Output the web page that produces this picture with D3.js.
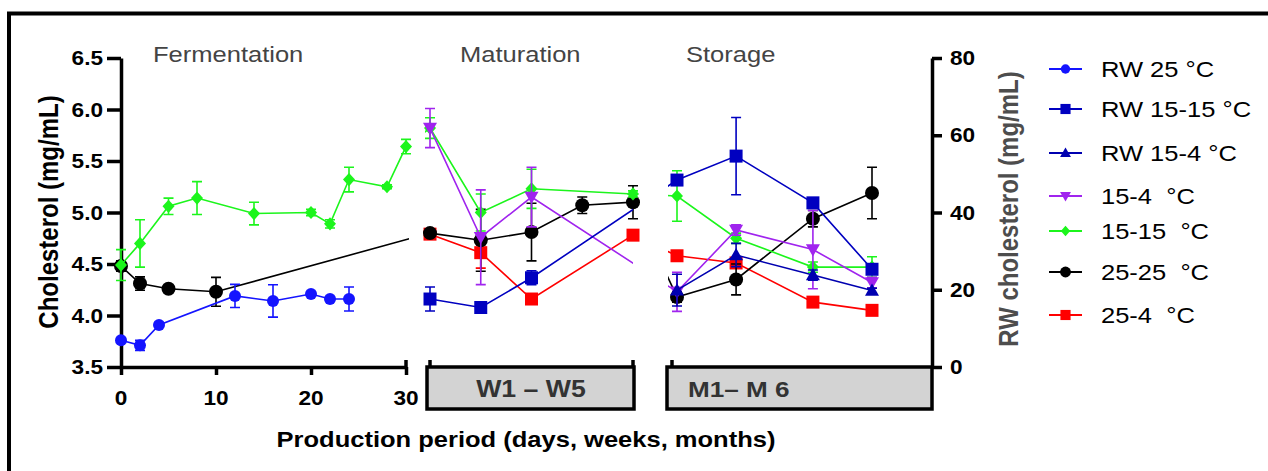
<!DOCTYPE html>
<html>
<head>
<meta charset="utf-8">
<script src="https://cdn.jsdelivr.net/npm/d3@7"></script>
<style>
  body { margin: 0; background: #fff; }
  text { font-family: Arial, "Liberation Sans", sans-serif; white-space: pre; }
</style>
</head>
<body>
<svg id="chart" width="1268" height="471"></svg>
<script>
const W = 1268, H = 471;
const SX = 1.16; // the source figure is stretched horizontally

// ── Data ────────────────────────────────────────────────────────────────────
// axis tick labels
const leftTicks = [3.5, 4.0, 4.5, 5.0, 5.5, 6.0, 6.5];
const rightTicks = [0, 20, 40, 60, 80];
const fermTicks = [0, 10, 20, 30];
const weeks = [1, 5];            // W1 – W5
const storageMonths = [1, 4.3];  // sampling span of M1 – M6 as drawn

// points: [stage, time, mean, sd]; F = day, M = week, S = month
// RW series are read on the right axis, the rest on the left axis
const rw25 = [
  ["F", 0, 6.9, 0.5], ["F", 2, 5.6, 1.3], ["F", 4, 10.9, 0.6], ["F", 12, 18.4, 3.0],
  ["F", 16, 17.1, 4.2], ["F", 20, 18.9, 0.6], ["F", 22, 17.6, 0.6], ["F", 24, 17.6, 3.1],
];
const rw1515 = [
  ["M", 1, 17.6, 3.1], ["M", 2, 15.4, 0.5], ["M", 3, 23.1, 1.8],
  ["S", 1, 48.4, 1.0], ["S", 2, 54.6, 10.0], ["S", 3.3, 42.5, 0.8], ["S", 4.3, 25.3, 1.0],
];
const rw154 = [
  ["S", 1, 19.9, 4.1], ["S", 2, 29.0, 3.0], ["S", 3.3, 23.8, 1.3], ["S", 4.3, 19.8, 0.6],
];
const t154 = [
  ["M", 1, 5.82, 0.19], ["M", 2, 4.76, 0.46], ["M", 3, 5.15, 0.29],
  ["S", 1, 4.23, 0.19], ["S", 2, 4.83, 0.05], ["S", 3.3, 4.64, 0.38], ["S", 4.3, 4.32, 0.05],
];
const t1515 = [
  ["F", 0, 4.49, 0.15], ["F", 2, 4.70, 0.23], ["F", 5, 5.06, 0.08], ["F", 8, 5.14, 0.16],
  ["F", 14, 4.99, 0.11], ["F", 20, 5.00, 0.03], ["F", 22, 4.89, 0.04], ["F", 24, 5.32, 0.12],
  ["F", 28, 5.25, 0.02], ["F", 30, 5.64, 0.07],
  ["M", 1, 5.82, 0.10], ["M", 2, 5.00, 0.18], ["M", 3, 5.23, 0.19], ["M", 5, 5.18, 0.03],
  ["S", 1, 5.16, 0.245], ["S", 2, 4.75, 0.05], ["S", 3.3, 4.47, 0.05], ["S", 4.3, 4.47, 0.10],
];
const t2525 = [
  ["F", 0, 4.48, 0.05], ["F", 2, 4.31, 0.065], ["F", 5, 4.26, 0.03], ["F", 10, 4.23, 0.14],
  ["M", 1, 4.80, 0.03], ["M", 2, 4.73, 0.30], ["M", 3, 4.81, 0.28], ["M", 4, 5.07, 0.08], ["M", 5, 5.10, 0.16],
  ["S", 1, 4.18, 0.05], ["S", 2, 4.35, 0.15], ["S", 3.3, 4.94, 0.08], ["S", 4.3, 5.19, 0.25],
];
const t254 = [
  ["M", 1, 4.79, 0.03], ["M", 2, 4.61, 0.15], ["M", 3, 4.16, 0.03], ["M", 5, 4.78, 0.03],
  ["S", 1, 4.58, 0.04], ["S", 2, 4.51, 0.05], ["S", 3.3, 4.13, 0.03], ["S", 4.3, 4.05, 0.03],
];

const series = [
  {name: "RW 25 °C",     color: "#1414ff", shape: "circle",  r: 6,   axis: "R", data: rw25},
  {name: "RW 15-15 °C",  color: "#0000c0", shape: "square",  r: 6.5, axis: "R", data: rw1515},
  {name: "RW 15-4 °C",   color: "#0000b0", shape: "up",      r: 7,   axis: "R", data: rw154},
  {name: "15-4  °C",     color: "#a024ee", shape: "down",    r: 7,   axis: "L", data: t154},
  {name: "15-15  °C",    color: "#1cf51c", shape: "diamond", r: 6,   axis: "L", data: t1515},
  {name: "25-25  °C",    color: "#000000", shape: "circle",  r: 7,   axis: "L", data: t2525},
  {name: "25-4  °C",     color: "#ff0000", shape: "square",  r: 6.5, axis: "L", data: t254},
];

// ── Scales ──────────────────────────────────────────────────────────────────
const yL = d3.scaleLinear().domain([3.5, 6.5]).range([367, 58]);
const yR = d3.scaleLinear().domain([0, 80]).range([367, 58]);
const xF = d3.scaleLinear().domain([0, 30]).range([121, 406]);
const xM = d3.scaleLinear().domain(weeks).range([430, 633]);
const xS = d3.scaleLinear().domain(storageMonths).range([677, 872]);
const xBy = {F: xF, M: xM, S: xS};

const svg = d3.select("#chart");
svg.append("rect").attr("width", W).attr("height", H).attr("fill", "#fff");

function label(x, y, str, size, opts = {}) {
  return svg.append("text")
    .attr("transform", `translate(${x},${y}) scale(${SX},1)${opts.rotate ? " rotate(-90)" : ""}`)
    .attr("font-size", size)
    .attr("font-weight", opts.bold ? "bold" : "normal")
    .attr("fill", opts.color || "#000")
    .attr("text-anchor", opts.anchor || "start")
    .text(str);
}

function marker(shape, r) {
  const p = d3.path();
  if (shape === "circle") { p.moveTo(r, 0); p.arc(0, 0, r, 0, 2 * Math.PI); }
  else if (shape === "square") p.rect(-r, -r, 2 * r, 2 * r);
  else if (shape === "diamond") { p.moveTo(0, -r * 1.1); p.lineTo(r, 0); p.lineTo(0, r * 1.1); p.lineTo(-r, 0); p.closePath(); }
  else if (shape === "up") { p.moveTo(0, -r); p.lineTo(r, r * 0.75); p.lineTo(-r, r * 0.75); p.closePath(); }
  else if (shape === "down") { p.moveTo(0, r); p.lineTo(r, -r * 0.75); p.lineTo(-r, -r * 0.75); p.closePath(); }
  return p.toString();
}

// ── Frame ───────────────────────────────────────────────────────────────────
svg.append("path").attr("d", `M9,${H}V13.5H${W}`)
  .attr("fill", "none").attr("stroke", "#000").attr("stroke-width", 4);

// ── Axes ────────────────────────────────────────────────────────────────────
const AXW = 3.5;
function styleAxis(g) {
  g.selectAll("path, line").attr("stroke", "#000").attr("stroke-width", AXW);
  g.selectAll("text").remove();
}
svg.append("g").attr("transform", "translate(121,0)")
  .call(d3.axisLeft(yL).tickValues(leftTicks).tickSize(14).tickSizeOuter(0)).call(styleAxis);
svg.append("g").attr("transform", "translate(0,367)")
  .call(d3.axisBottom(xF).tickValues(fermTicks).tickSize(8).tickSizeOuter(0)).call(styleAxis);
svg.append("line").attr("x1", xF(30)).attr("x2", xF(30)).attr("y1", 360).attr("y2", 367)
  .attr("stroke", "#000").attr("stroke-width", AXW);
svg.append("g").attr("transform", "translate(932,0)")
  .call(d3.axisRight(yR).tickValues(rightTicks).tickSize(10).tickSizeOuter(0)).call(styleAxis);

leftTicks.forEach(v => label(103, yL(v) + 7, d3.format(".1f")(v), 19.5, {bold: true, anchor: "end"}));
fermTicks.forEach(v => label(xF(v), 405, String(v), 19.5, {bold: true, anchor: "middle"}));
rightTicks.forEach(v => label(950, yR(v) + 7, String(v), 19.5, {bold: true}));

// stage boxes under maturation and storage
svg.append("rect").attr("x", 427).attr("y", 367).attr("width", 207).attr("height", 42)
  .attr("fill", "#d3d3d3").attr("stroke", "#000").attr("stroke-width", AXW);
svg.append("rect").attr("x", 667).attr("y", 367).attr("width", 265).attr("height", 42)
  .attr("fill", "#d3d3d3").attr("stroke", "#000").attr("stroke-width", AXW);
for (const x of [xM(1), xM(5), 672]) {
  svg.append("line").attr("x1", x).attr("x2", x).attr("y1", 360).attr("y2", 367)
    .attr("stroke", "#000").attr("stroke-width", AXW);
}
label(531, 397, "W1 – W5", 23, {bold: true, anchor: "middle", color: "#333"});
label(688, 397, "M1– M 6", 22.5, {bold: true, color: "#333"});

// titles
label(153, 62, "Fermentation", 22, {color: "#444"});
label(460, 62, "Maturation", 22, {color: "#444"});
label(686, 62, "Storage", 22, {color: "#444"});
label(526, 447, "Production period (days, weeks, months)", 22, {bold: true, anchor: "middle"});
label(58, 212, "Cholesterol (mg/mL)", 24, {bold: true, anchor: "middle", rotate: true});
label(1018, 209, "RW cholesterol (mg/mL)", 24, {bold: true, anchor: "middle", rotate: true, color: "#4d4d4d"});

// ── Plot ────────────────────────────────────────────────────────────────────
const clip = svg.append("defs").append("clipPath").attr("id", "panels");
clip.append("rect").attr("x", 0).attr("y", 0).attr("width", 409).attr("height", H);
clip.append("rect").attr("x", 425).attr("y", 0).attr("width", 208).attr("height", H);
clip.append("rect").attr("x", 668).attr("y", 0).attr("width", 264).attr("height", H);

const line = d3.line();
// drawn in reverse legend order so earlier series sit on top
for (const s of series.slice().reverse()) {
  const y = s.axis === "R" ? yR : yL;
  const pts = s.data.map(([st, t, m, sd]) => ({x: xBy[st](t), y: y(m), lo: y(m - sd), hi: y(m + sd)}));
  const g = svg.append("g");
  g.append("path").attr("d", line(pts.map(p => [p.x, p.y])))
    .attr("fill", "none").attr("stroke", s.color).attr("stroke-width", 1.6)
    .attr("clip-path", "url(#panels)");
  for (const p of pts) {
    g.append("path").attr("d", `M${p.x},${p.lo}V${p.hi}M${p.x - 5},${p.lo}h10M${p.x - 5},${p.hi}h10`)
      .attr("fill", "none").attr("stroke", s.color).attr("stroke-width", 1.6);
  }
  g.selectAll(".m").data(pts).join("path")
    .attr("transform", p => `translate(${p.x},${p.y})`)
    .attr("d", marker(s.shape, s.r)).attr("fill", s.color);
}

// ── Legend ──────────────────────────────────────────────────────────────────
const legendRows = [69, 109, 153, 196, 231, 272, 315];
series.forEach((s, i) => {
  const y = legendRows[i];
  svg.append("line").attr("x1", 1049).attr("x2", 1082).attr("y1", y).attr("y2", y)
    .attr("stroke", s.color).attr("stroke-width", 1.8);
  svg.append("path").attr("transform", `translate(1065.5,${y})`)
    .attr("d", marker(s.shape, s.r * 0.78)).attr("fill", s.color);
  label(1101, y + 8, s.name, 22);
});
</script>
</body>
</html>
